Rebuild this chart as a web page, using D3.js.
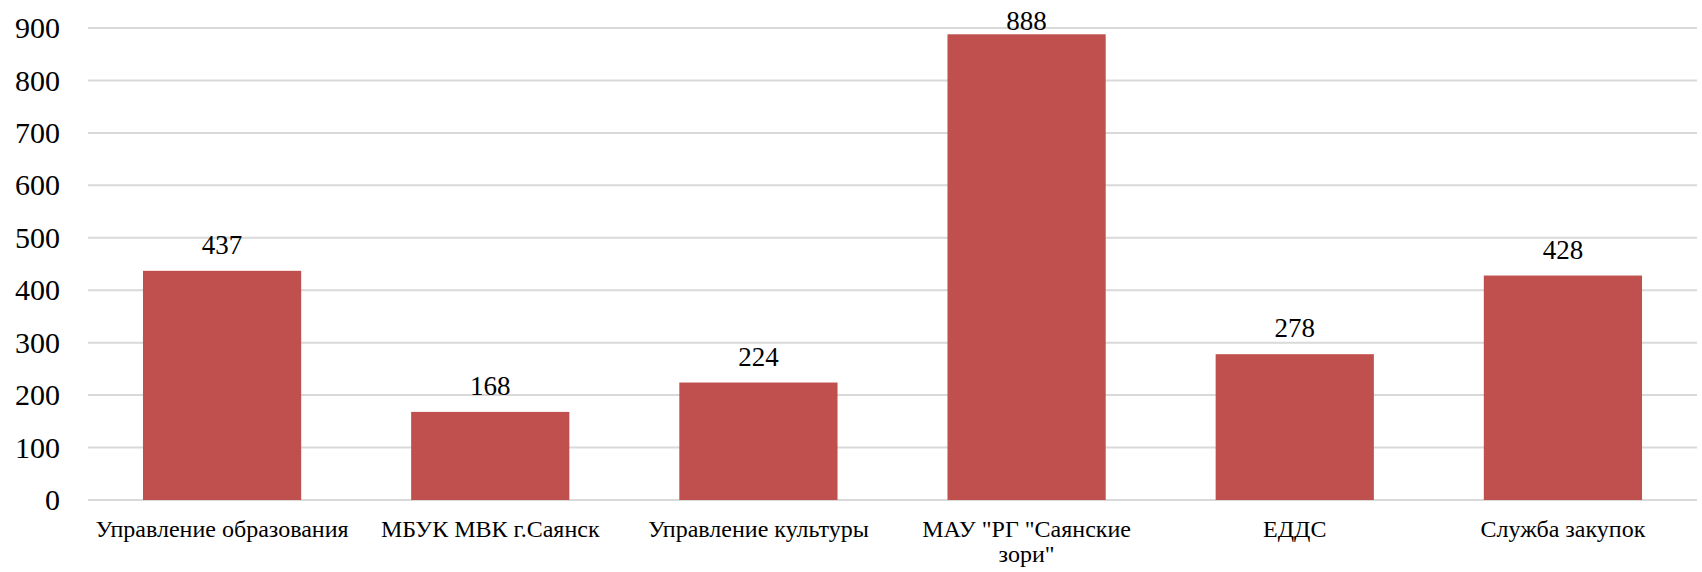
<!DOCTYPE html>
<html>
<head>
<meta charset="utf-8">
<script src="https://cdn.jsdelivr.net/npm/d3@7"></script>
<style>
  body { margin: 0; background: #fff; }
</style>
</head>
<body>
<script>
// data
var categories = ["Управление образования", "МБУК МВК г.Саянск", "Управление культуры",
                  "МАУ \"РГ \"Саянские зори\"", "ЕДДС", "Служба закупок"];
var values = [437, 168, 224, 888, 278, 428];
var yTicks = [0, 100, 200, 300, 400, 500, 600, 700, 800, 900];

var FONT = "'Liberation Serif'";

var W = 1702, H = 572;
var margin = {top: 28, right: 5, bottom: 72, left: 88},
    width = W - margin.left - margin.right,
    height = H - margin.top - margin.bottom;

var svg = d3.select("body").append("svg")
    .attr("width", W)
    .attr("height", H)
  .append("g")
    .attr("transform", "translate(" + margin.left + "," + margin.top + ")");

var x = d3.scaleBand()
    .domain(categories)
    .range([0, width])
    .paddingInner(0.41)
    .paddingOuter(0.205);

var y = d3.scaleLinear()
    .domain([0, 900])
    .range([height, 0]);

// gridlines
svg.selectAll(".grid")
    .data(yTicks)
    .enter().append("line")
    .attr("x1", 0)
    .attr("x2", width)
    .attr("y1", function(d) { return y(d); })
    .attr("y2", function(d) { return y(d); })
    .attr("stroke", "#d9d9d9")
    .attr("stroke-width", 2);

// y axis labels
var yAxis = svg.append("g")
    .call(d3.axisLeft(y).tickValues(yTicks).tickSize(0).tickPadding(28));
yAxis.select(".domain").remove();
yAxis.selectAll("text")
    .style("font-family", FONT)
    .style("font-size", "30px")
    .attr("fill", "#000");

// bars
svg.selectAll(".bar")
    .data(values)
    .enter().append("rect")
    .attr("class", "bar")
    .attr("x", function(d, i) { return x(categories[i]); })
    .attr("width", x.bandwidth())
    .attr("y", function(d) { return y(d); })
    .attr("height", function(d) { return height - y(d); })
    .attr("fill", "#c0504d");

// data labels
svg.selectAll(".label")
    .data(values)
    .enter().append("text")
    .attr("class", "label")
    .attr("x", function(d, i) { return x(categories[i]) + x.bandwidth() / 2; })
    .attr("y", function(d) { return Math.max(y(d) - 17, 2); })
    .attr("text-anchor", "middle")
    .style("font-family", FONT)
    .style("font-size", "27px")
    .text(function(d) { return d; });

// x axis labels (wrapped like the original)
var xLines = [["Управление образования"], ["МБУК МВК г.Саянск"], ["Управление культуры"],
              ["МАУ \"РГ \"Саянские", "зори\""], ["ЕДДС"], ["Служба закупок"]];
var xl = svg.selectAll(".xlab")
    .data(categories)
    .enter().append("text")
    .attr("class", "xlab")
    .attr("text-anchor", "middle")
    .attr("transform", function(d) { return "translate(" + (x(d) + x.bandwidth() / 2) + "," + (height + 37) + ")"; })
    .style("font-family", FONT)
    .style("font-size", "24px");
xl.each(function(d, i) {
    var t = d3.select(this);
    xLines[i].forEach(function(s, j) {
        t.append("tspan").attr("x", 0).attr("y", j * 25).text(s);
    });
});
</script>
</body>
</html>
